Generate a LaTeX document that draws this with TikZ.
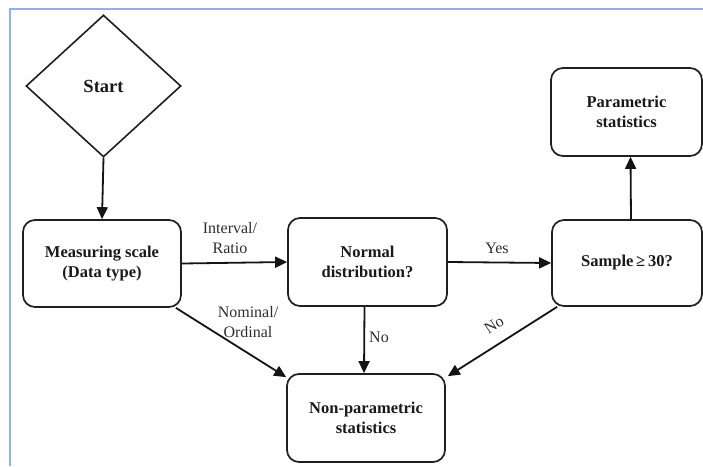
\documentclass[tikz,border=0pt]{standalone}
\usepackage{fontspec}
\setmainfont{Liberation Serif}
\usetikzlibrary{shapes.geometric,arrows.meta}
\begin{document}
\begin{tikzpicture}[x=1pt,y=-1pt,
 box/.style={draw=black!88, line width=1.7pt, rounded corners=12pt, align=center,
   font=\fontsize{16.5}{20}\selectfont\bfseries, text=black!90, inner sep=0pt},
 lbl/.style={align=center, font=\fontsize{16}{20}\selectfont, text=black!82, inner sep=0pt},
 arr/.style={draw=black!92, line width=1.8pt, -{Triangle[length=12pt,width=11pt]}}
]
\useasboundingbox (0,0) rectangle (703,466);
\draw[color={rgb,255:red,141;green,179;blue,226}, line width=1.8pt] (10,466) -- (10,9) -- (703,9);

\node[draw=black!88, line width=1.6pt, diamond, minimum width=155pt, minimum height=142pt,
  inner sep=0pt, font=\fontsize{18.5}{20}\selectfont\bfseries, text=black!90] (start) at (103.5,86) {Start};
\node[box, minimum width=158pt, minimum height=87pt] (meas) at (102,263.5) {Measuring scale\\(Data type)};
\node[box, minimum width=159pt, minimum height=88pt] (normal) at (367.5,262) {Normal\\distribution?};
\node[box, minimum width=150pt, minimum height=86pt] (sample) at (627,263) {Sample\,≥\,30?};
\node[box, minimum width=151pt, minimum height=88pt] (param) at (626.5,112) {Parametric\\statistics};
\node[box, minimum width=158pt, minimum height=88pt] (nonparam) at (366,418) {Non-parametric\\statistics};

\draw[arr] (start.south) -- (meas.north);
\draw[arr] (meas.east) -- (normal.west);
\draw[arr] (normal.east) -- (sample.west);
\draw[arr] ([xshift=-3pt]normal.south) -- ([xshift=-2pt]nonparam.north);
\draw[arr] ([xshift=-6pt]meas.south east) -- ([yshift=-4pt]nonparam.north west);
\draw[arr] ([xshift=6pt]sample.south west) -- ([xshift=2pt,yshift=-3pt]nonparam.north east);
\draw[arr] ([xshift=4pt]sample.north) -- ([xshift=4pt]param.south);

\node[lbl] (lint) at (230,238) {Interval/\\Ratio};
\node[lbl] (lyes) at (497,248) {Yes};
\node[lbl] (lno1) at (379,337) {No};
\node[lbl] (lnom) at (248,322) {Nominal/\\Ordinal};
\node[lbl, rotate=33] (lno2) at (494,325) {No};
\end{tikzpicture}
\end{document}
